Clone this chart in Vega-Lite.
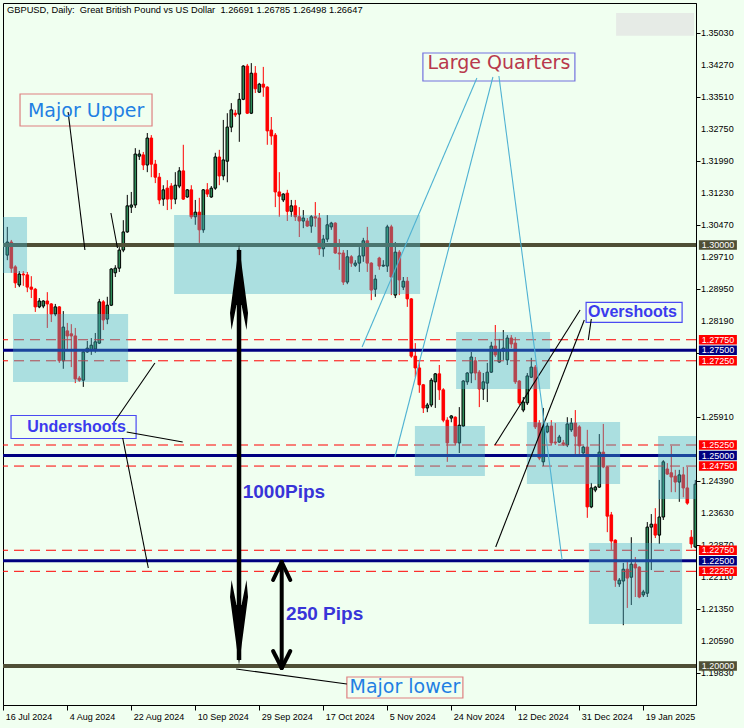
{
  "$schema": "https://vega.github.io/schema/vega-lite/v6.json",
  "width": 693,
  "height": 702,
  "autosize": {"type": "none"},
  "padding": {"left": 3, "top": 3, "right": 48, "bottom": 23},
  "background": "#F0FFF0",
  "config": {
    "view": {"stroke": "#000000", "strokeWidth": 1},
    "font": "Liberation Sans",
    "scale": {"continuousPadding": 0},
    "axis": {"labelOverlap": false, "labelFlush": false}
  },
  "datasets": {
    "bars": [
      {"i":0,"o":1.2976,"h":1.3043,"l":1.2964,"c":1.3007},
      {"i":1,"o":1.3007,"h":1.3012,"l":1.2934,"c":1.2945},
      {"i":2,"o":1.2948,"h":1.2952,"l":1.2898,"c":1.2910},
      {"i":3,"o":1.2905,"h":1.2938,"l":1.2900,"c":1.2931},
      {"i":4,"o":1.2931,"h":1.2938,"l":1.2903,"c":1.2929},
      {"i":5,"o":1.2929,"h":1.2936,"l":1.2888,"c":1.2900},
      {"i":6,"o":1.2900,"h":1.2926,"l":1.2874,"c":1.2895},
      {"i":7,"o":1.2895,"h":1.2898,"l":1.2841,"c":1.2853},
      {"i":8,"o":1.2853,"h":1.2874,"l":1.2850,"c":1.2867},
      {"i":9,"o":1.2855,"h":1.2869,"l":1.2850,"c":1.2867},
      {"i":10,"o":1.2867,"h":1.2888,"l":1.2803,"c":1.2860},
      {"i":11,"o":1.2860,"h":1.2862,"l":1.2817,"c":1.2836},
      {"i":12,"o":1.2836,"h":1.2860,"l":1.2831,"c":1.2853},
      {"i":13,"o":1.2853,"h":1.2855,"l":1.2720,"c":1.2725},
      {"i":14,"o":1.2725,"h":1.2843,"l":1.2706,"c":1.2805},
      {"i":15,"o":1.2796,"h":1.2815,"l":1.2753,"c":1.2784},
      {"i":16,"o":1.2789,"h":1.2812,"l":1.2710,"c":1.2784},
      {"i":17,"o":1.2784,"h":1.2803,"l":1.2672,"c":1.2682},
      {"i":18,"o":1.2684,"h":1.2689,"l":1.2675,"c":1.2679},
      {"i":19,"o":1.2679,"h":1.2753,"l":1.2663,"c":1.2746},
      {"i":20,"o":1.2746,"h":1.2772,"l":1.2744,"c":1.2755},
      {"i":21,"o":1.2751,"h":1.2779,"l":1.2739,"c":1.2762},
      {"i":22,"o":1.2753,"h":1.2791,"l":1.2744,"c":1.2770},
      {"i":23,"o":1.2767,"h":1.2872,"l":1.2765,"c":1.2865},
      {"i":24,"o":1.2865,"h":1.2869,"l":1.2798,"c":1.2822},
      {"i":25,"o":1.2824,"h":1.2877,"l":1.2812,"c":1.2857},
      {"i":26,"o":1.2857,"h":1.2945,"l":1.2855,"c":1.2943},
      {"i":27,"o":1.2934,"h":1.2952,"l":1.2924,"c":1.2945},
      {"i":28,"o":1.2945,"h":1.2995,"l":1.2936,"c":1.2988},
      {"i":29,"o":1.2988,"h":1.3059,"l":1.2983,"c":1.3031},
      {"i":30,"o":1.3031,"h":1.3119,"l":1.3029,"c":1.3093},
      {"i":31,"o":1.3090,"h":1.3126,"l":1.3076,"c":1.3095},
      {"i":32,"o":1.3095,"h":1.3230,"l":1.3088,"c":1.3216},
      {"i":33,"o":1.3211,"h":1.3226,"l":1.3202,"c":1.3216},
      {"i":34,"o":1.3214,"h":1.3221,"l":1.3178,"c":1.3190},
      {"i":35,"o":1.3190,"h":1.3266,"l":1.3173,"c":1.3254},
      {"i":36,"o":1.3254,"h":1.3261,"l":1.3161,"c":1.3192},
      {"i":37,"o":1.3192,"h":1.3202,"l":1.3147,"c":1.3161},
      {"i":38,"o":1.3161,"h":1.3171,"l":1.3097,"c":1.3107},
      {"i":39,"o":1.3109,"h":1.3142,"l":1.3093,"c":1.3131},
      {"i":40,"o":1.3135,"h":1.3154,"l":1.3083,"c":1.3109},
      {"i":41,"o":1.3140,"h":1.3147,"l":1.3085,"c":1.3109},
      {"i":42,"o":1.3109,"h":1.3173,"l":1.3097,"c":1.3142},
      {"i":43,"o":1.3140,"h":1.3185,"l":1.3135,"c":1.3176},
      {"i":44,"o":1.3176,"h":1.3238,"l":1.3107,"c":1.3109},
      {"i":45,"o":1.3114,"h":1.3133,"l":1.3112,"c":1.3131},
      {"i":46,"o":1.3131,"h":1.3142,"l":1.3062,"c":1.3067},
      {"i":47,"o":1.3067,"h":1.3107,"l":1.3048,"c":1.3078},
      {"i":48,"o":1.3078,"h":1.3112,"l":1.3005,"c":1.3036},
      {"i":49,"o":1.3036,"h":1.3133,"l":1.3029,"c":1.3131},
      {"i":50,"o":1.3131,"h":1.3147,"l":1.3114,"c":1.3121},
      {"i":51,"o":1.3114,"h":1.3140,"l":1.3112,"c":1.3135},
      {"i":52,"o":1.3135,"h":1.3219,"l":1.3131,"c":1.3209},
      {"i":53,"o":1.3209,"h":1.3226,"l":1.3142,"c":1.3164},
      {"i":54,"o":1.3164,"h":1.3297,"l":1.3154,"c":1.3202},
      {"i":55,"o":1.3199,"h":1.3313,"l":1.3149,"c":1.3280},
      {"i":56,"o":1.3280,"h":1.3337,"l":1.3268,"c":1.3321},
      {"i":57,"o":1.3313,"h":1.3321,"l":1.3304,"c":1.3309},
      {"i":58,"o":1.3311,"h":1.3361,"l":1.3245,"c":1.3346},
      {"i":59,"o":1.3346,"h":1.3427,"l":1.3344,"c":1.3425},
      {"i":60,"o":1.3425,"h":1.3430,"l":1.3311,"c":1.3313},
      {"i":61,"o":1.3313,"h":1.3432,"l":1.3311,"c":1.3408},
      {"i":62,"o":1.3408,"h":1.3425,"l":1.3361,"c":1.3371},
      {"i":63,"o":1.3363,"h":1.3385,"l":1.3361,"c":1.3382},
      {"i":64,"o":1.3382,"h":1.3423,"l":1.3352,"c":1.3375},
      {"i":65,"o":1.3375,"h":1.3377,"l":1.3238,"c":1.3271},
      {"i":66,"o":1.3273,"h":1.3304,"l":1.3238,"c":1.3259},
      {"i":67,"o":1.3261,"h":1.3266,"l":1.3090,"c":1.3126},
      {"i":68,"o":1.3126,"h":1.3173,"l":1.3067,"c":1.3116},
      {"i":69,"o":1.3107,"h":1.3123,"l":1.3102,"c":1.3121},
      {"i":70,"o":1.3123,"h":1.3131,"l":1.3057,"c":1.3080},
      {"i":71,"o":1.3080,"h":1.3107,"l":1.3067,"c":1.3093},
      {"i":72,"o":1.3093,"h":1.3107,"l":1.3057,"c":1.3067},
      {"i":73,"o":1.3067,"h":1.3090,"l":1.3019,"c":1.3057},
      {"i":74,"o":1.3057,"h":1.3083,"l":1.3040,"c":1.3064},
      {"i":75,"o":1.3057,"h":1.3064,"l":1.3043,"c":1.3045},
      {"i":76,"o":1.3045,"h":1.3071,"l":1.3029,"c":1.3067},
      {"i":77,"o":1.3067,"h":1.3102,"l":1.3043,"c":1.3064},
      {"i":78,"o":1.3064,"h":1.3076,"l":1.2976,"c":1.2991},
      {"i":79,"o":1.2991,"h":1.3024,"l":1.2972,"c":1.3014},
      {"i":80,"o":1.3014,"h":1.3071,"l":1.3007,"c":1.3048},
      {"i":81,"o":1.3043,"h":1.3055,"l":1.3036,"c":1.3052},
      {"i":82,"o":1.3052,"h":1.3054,"l":1.2979,"c":1.2981},
      {"i":83,"o":1.2981,"h":1.3014,"l":1.2941,"c":1.2979},
      {"i":84,"o":1.2981,"h":1.2988,"l":1.2905,"c":1.2912},
      {"i":85,"o":1.2912,"h":1.2988,"l":1.2907,"c":1.2972},
      {"i":86,"o":1.2972,"h":1.2976,"l":1.2948,"c":1.2957},
      {"i":87,"o":1.2952,"h":1.2964,"l":1.2948,"c":1.2957},
      {"i":88,"o":1.2957,"h":1.2995,"l":1.2936,"c":1.2974},
      {"i":89,"o":1.2974,"h":1.3017,"l":1.2960,"c":1.3010},
      {"i":90,"o":1.3010,"h":1.3043,"l":1.2936,"c":1.2957},
      {"i":91,"o":1.2957,"h":1.2959,"l":1.2869,"c":1.2893},
      {"i":92,"o":1.2895,"h":1.2929,"l":1.2877,"c":1.2919},
      {"i":93,"o":1.2969,"h":1.2972,"l":1.2941,"c":1.2950},
      {"i":94,"o":1.2950,"h":1.2964,"l":1.2948,"c":1.2952},
      {"i":95,"o":1.2950,"h":1.3048,"l":1.2936,"c":1.3043},
      {"i":96,"o":1.3043,"h":1.3048,"l":1.2881,"c":1.2924},
      {"i":97,"o":1.2881,"h":1.3007,"l":1.2874,"c":1.2983},
      {"i":98,"o":1.2983,"h":1.2988,"l":1.2881,"c":1.2917},
      {"i":99,"o":1.2900,"h":1.2924,"l":1.2893,"c":1.2914},
      {"i":100,"o":1.2914,"h":1.2924,"l":1.2853,"c":1.2872},
      {"i":101,"o":1.2872,"h":1.2874,"l":1.2732,"c":1.2736},
      {"i":102,"o":1.2736,"h":1.2767,"l":1.2686,"c":1.2708},
      {"i":103,"o":1.2708,"h":1.2727,"l":1.2649,"c":1.2668},
      {"i":104,"o":1.2668,"h":1.2670,"l":1.2601,"c":1.2613},
      {"i":105,"o":1.2613,"h":1.2625,"l":1.2603,"c":1.2620},
      {"i":106,"o":1.2620,"h":1.2684,"l":1.2615,"c":1.2679},
      {"i":107,"o":1.2675,"h":1.2696,"l":1.2613,"c":1.2694},
      {"i":108,"o":1.2694,"h":1.2715,"l":1.2632,"c":1.2656},
      {"i":109,"o":1.2656,"h":1.2660,"l":1.2579,"c":1.2584},
      {"i":110,"o":1.2584,"h":1.2591,"l":1.2485,"c":1.2530},
      {"i":111,"o":1.2589,"h":1.2596,"l":1.2579,"c":1.2594},
      {"i":112,"o":1.2591,"h":1.2593,"l":1.2525,"c":1.2530},
      {"i":113,"o":1.2530,"h":1.2615,"l":1.2506,"c":1.2572},
      {"i":114,"o":1.2570,"h":1.2679,"l":1.2568,"c":1.2677},
      {"i":115,"o":1.2675,"h":1.2698,"l":1.2668,"c":1.2696},
      {"i":116,"o":1.2696,"h":1.2746,"l":1.2672,"c":1.2734},
      {"i":117,"o":1.2725,"h":1.2734,"l":1.2679,"c":1.2696},
      {"i":118,"o":1.2698,"h":1.2703,"l":1.2615,"c":1.2658},
      {"i":119,"o":1.2658,"h":1.2696,"l":1.2632,"c":1.2675},
      {"i":120,"o":1.2672,"h":1.2720,"l":1.2627,"c":1.2698},
      {"i":121,"o":1.2698,"h":1.2770,"l":1.2696,"c":1.2760},
      {"i":122,"o":1.2760,"h":1.2810,"l":1.2734,"c":1.2739},
      {"i":123,"o":1.2722,"h":1.2777,"l":1.2720,"c":1.2751},
      {"i":124,"o":1.2748,"h":1.2798,"l":1.2727,"c":1.2755},
      {"i":125,"o":1.2727,"h":1.2786,"l":1.2715,"c":1.2779},
      {"i":126,"o":1.2779,"h":1.2786,"l":1.2755,"c":1.2765},
      {"i":127,"o":1.2767,"h":1.2781,"l":1.2670,"c":1.2675},
      {"i":128,"o":1.2677,"h":1.2679,"l":1.2620,"c":1.2625},
      {"i":129,"o":1.2608,"h":1.2639,"l":1.2603,"c":1.2627},
      {"i":130,"o":1.2625,"h":1.2696,"l":1.2620,"c":1.2689},
      {"i":131,"o":1.2686,"h":1.2732,"l":1.2684,"c":1.2710},
      {"i":132,"o":1.2710,"h":1.2715,"l":1.2563,"c":1.2568},
      {"i":133,"o":1.2577,"h":1.2584,"l":1.2489,"c":1.2494},
      {"i":134,"o":1.2485,"h":1.2613,"l":1.2475,"c":1.2568},
      {"i":135,"o":1.2556,"h":1.2577,"l":1.2553,"c":1.2570},
      {"i":136,"o":1.2570,"h":1.2584,"l":1.2525,"c":1.2530},
      {"i":137,"o":1.2532,"h":1.2577,"l":1.2525,"c":1.2530},
      {"i":138,"o":1.2532,"h":1.2549,"l":1.2530,"c":1.2544},
      {"i":139,"o":1.2530,"h":1.2537,"l":1.2523,"c":1.2527},
      {"i":140,"o":1.2525,"h":1.2591,"l":1.2520,"c":1.2575},
      {"i":141,"o":1.2561,"h":1.2589,"l":1.2556,"c":1.2577},
      {"i":142,"o":1.2577,"h":1.2608,"l":1.2501,"c":1.2546},
      {"i":143,"o":1.2568,"h":1.2572,"l":1.2497,"c":1.2523},
      {"i":144,"o":1.2506,"h":1.2523,"l":1.2504,"c":1.2520},
      {"i":145,"o":1.2520,"h":1.2561,"l":1.2352,"c":1.2378},
      {"i":146,"o":1.2378,"h":1.2435,"l":1.2375,"c":1.2423},
      {"i":147,"o":1.2418,"h":1.2428,"l":1.2413,"c":1.2425},
      {"i":148,"o":1.2425,"h":1.2551,"l":1.2423,"c":1.2508},
      {"i":149,"o":1.2508,"h":1.2575,"l":1.2470,"c":1.2473},
      {"i":150,"o":1.2473,"h":1.2475,"l":1.2318,"c":1.2356},
      {"i":151,"o":1.2359,"h":1.2366,"l":1.2276,"c":1.2297},
      {"i":152,"o":1.2299,"h":1.2301,"l":1.2188,"c":1.2204},
      {"i":153,"o":1.2195,"h":1.2209,"l":1.2188,"c":1.2204},
      {"i":154,"o":1.2202,"h":1.2245,"l":1.2097,"c":1.2230},
      {"i":155,"o":1.2230,"h":1.2252,"l":1.2138,"c":1.2209},
      {"i":156,"o":1.2211,"h":1.2306,"l":1.2145,"c":1.2242},
      {"i":157,"o":1.2242,"h":1.2259,"l":1.2164,"c":1.2233},
      {"i":158,"o":1.2235,"h":1.2237,"l":1.2161,"c":1.2164},
      {"i":159,"o":1.2169,"h":1.2181,"l":1.2164,"c":1.2176},
      {"i":160,"o":1.2173,"h":1.2342,"l":1.2164,"c":1.2330},
      {"i":161,"o":1.2330,"h":1.2361,"l":1.2228,"c":1.2337},
      {"i":162,"o":1.2337,"h":1.2375,"l":1.2304,"c":1.2311},
      {"i":163,"o":1.2311,"h":1.2442,"l":1.2290,"c":1.2354},
      {"i":164,"o":1.2354,"h":1.2489,"l":1.2347,"c":1.2485},
      {"i":165,"o":1.2468,"h":1.2482,"l":1.2454,"c":1.2456},
      {"i":166,"o":1.2459,"h":1.2523,"l":1.2413,"c":1.2449},
      {"i":167,"o":1.2451,"h":1.2466,"l":1.2413,"c":1.2437},
      {"i":168,"o":1.2437,"h":1.2466,"l":1.2390,"c":1.2454},
      {"i":169,"o":1.2454,"h":1.2473,"l":1.2401,"c":1.2423},
      {"i":170,"o":1.2423,"h":1.2473,"l":1.2383,"c":1.2387},
      {"i":171,"o":1.2306,"h":1.2323,"l":1.2280,"c":1.2290},
      {"i":172,"o":1.2283,"h":1.2442,"l":1.2280,"c":1.2432}
    ],
    "hl": [
      {"p":1.3,"k":"major"},{"p":1.2,"k":"major"},
      {"p":1.275,"k":"mid"},{"p":1.25,"k":"mid"},{"p":1.225,"k":"mid"},
      {"p":1.2775,"k":"q"},{"p":1.2725,"k":"q"},{"p":1.2525,"k":"q"},{"p":1.2475,"k":"q"},{"p":1.2275,"k":"q"},{"p":1.2225,"k":"q"}
    ],
    "ylab": [
      {"v":1.3503},{"v":1.3427},{"v":1.3351},{"v":1.3275},{"v":1.3199},{"v":1.3123},{"v":1.3047},{"v":1.2971},{"v":1.2895},{"v":1.2819},
      {"v":1.2591},{"v":1.2439},{"v":1.2363},{"v":1.2287},{"v":1.2211},{"v":1.2135},{"v":1.2059},{"v":1.1983}
    ],
    "zones": [
      {"x1":-1.07,"x2":4.93,"y1":1.30665,"y2":1.29335},
      {"x1":1.43,"x2":30.2,"y1":1.28361,"y2":1.26746},
      {"x1":41.7,"x2":103.2,"y1":1.30713,"y2":1.28836},
      {"x1":112.2,"x2":135.7,"y1":1.27934,"y2":1.2658},
      {"x1":101.9,"x2":119.4,"y1":1.25701,"y2":1.24514},
      {"x1":129.9,"x2":153.2,"y1":1.25796,"y2":1.24324},
      {"x1":162.7,"x2":172.17,"y1":1.25464,"y2":1.23968},
      {"x1":145.4,"x2":168.7,"y1":1.22922,"y2":1.21}
    ],
    "panel": [{"x1":152.2,"x2":171.7,"y1":1.3551,"y2":1.3497}],
    "frames": [
      {"x1":3.18,"x2":36.18,"y1":1.33586,"y2":1.32826,"k":"salmon"},
      {"x1":103.9,"x2":141.9,"y1":1.3456,"y2":1.33895,"k":"violet"},
      {"x1":144.7,"x2":168.7,"y1":1.28635,"y2":1.2816,"k":"blue"},
      {"x1":0.93,"x2":32.2,"y1":1.25951,"y2":1.25404,"k":"blue"},
      {"x1":84.9,"x2":113.9,"y1":1.1974,"y2":1.19241,"k":"salmon"}
    ],
    "segs": [
      {"x1":15.2,"y1":1.33159,"x2":19.4,"y2":1.29881,"k":"ptr"},
      {"x1":25.9,"y1":1.3076,"x2":27.55,"y2":1.29929,"k":"ptr"},
      {"x1":26.9,"y1":1.2582,"x2":36.9,"y2":1.27198,"k":"ptr"},
      {"x1":29.85,"y1":1.25559,"x2":43.85,"y2":1.25321,"k":"ptr"},
      {"x1":28.85,"y1":1.25416,"x2":35.25,"y2":1.22329,"k":"ptr"},
      {"x1":57.2,"y1":1.1993,"x2":84.9,"y2":1.19574,"k":"ptr"},
      {"x1":143.2,"y1":1.28456,"x2":121.9,"y2":1.2525,"k":"ptr"},
      {"x1":144.25,"y1":1.28219,"x2":122.1,"y2":1.22828,"k":"ptr"},
      {"x1":146,"y1":1.28242,"x2":145.25,"y2":1.27744,"k":"ptr"},
      {"x1":117.4,"y1":1.33966,"x2":88.7,"y2":1.27578,"k":"lq"},
      {"x1":121.4,"y1":1.3399,"x2":96.9,"y2":1.24965,"k":"lq"},
      {"x1":122.9,"y1":1.34014,"x2":138.7,"y2":1.22519,"k":"lq"},
      {"x1":57.93,"y1":1.29881,"x2":57.93,"y2":1.20144,"k":"shaft"},
      {"x1":68.6,"y1":1.22471,"x2":68.6,"y2":1.19954,"k":"shaft2"},
      {"x1":68.6,"y1":1.22471,"x2":66.45,"y2":1.22044,"k":"chev"},
      {"x1":68.6,"y1":1.22471,"x2":70.75,"y2":1.22044,"k":"chev"},
      {"x1":68.6,"y1":1.19954,"x2":66.45,"y2":1.20357,"k":"chev"},
      {"x1":68.6,"y1":1.19954,"x2":70.75,"y2":1.20357,"k":"chev"}
    ],
    "heads": [
      {"x":57.93,"y":1.28991,"k":"up"},
      {"x":57.93,"y":1.21034,"k":"down"}
    ],
    "notes": [
      {"t":"Major Upper","x":19.7,"y":1.33194,"k":"big"},
      {"t":"Large Quarters","x":122.9,"y":1.34311,"k":"bigred"},
      {"t":"Major lower","x":99.4,"y":1.19491,"k":"big"},
      {"t":"Overshoots","x":156.3,"y":1.28409,"k":"bold16"},
      {"t":"Undershoots","x":17.3,"y":1.25678,"k":"bold16"},
      {"t":"1000Pips","x":58.85,"y":1.24122,"k":"bold19"},
      {"t":"250 Pips","x":69.7,"y":1.21243,"k":"bold19"},
      {"t":"GBPUSD, Daily:\u00a0 Great British Pound vs US Dollar\u00a0 1.26691 1.26785 1.26498 1.26647","x":-0.075,"y":1.35588,"k":"title"}
    ]
  },
  "layer": [
    {
      "data": {"name": "bars"},
      "mark": {"type": "rule", "strokeWidth": 1},
      "encoding": {
        "x": {"field": "i", "type": "quantitative", "scale": {"domain": [-1.075, 172.175], "nice": false, "zero": false, "padding": 0},
          "axis": {"orient": "bottom", "title": null, "grid": false, "values": [-1,15,31,47,63,79,95,111,127,143,159],
            "labelExpr": "['16 Jul 2024','4 Aug 2024','22 Aug 2024','10 Sep 2024','29 Sep 2024','17 Oct 2024','5 Nov 2024','24 Nov 2024','12 Dec 2024','31 Dec 2024','19 Jan 2025'][round((datum.value+1)/16)]",
            "labelAlign": "left", "labelOffset": 2, "labelPadding": 2, "tickSize": 5, "labelFontSize": 9, "labelFont": "Liberation Sans",
            "labelColor": "#000000", "tickColor": "#000000", "domainColor": "#000000", "labelOverlap": false, "labelFlush": false, "zindex": 0}},
        "y": {"field": "l", "type": "quantitative", "scale": {"domain": [1.19075, 1.357475], "nice": false, "zero": false, "padding": 0},
          "axis": {"orient": "right", "title": null, "grid": false, "labels": false,
            "values": [1.3503,1.3427,1.3351,1.3275,1.3199,1.3123,1.3047,1.2971,1.2895,1.2819,1.2743,1.2667,1.2591,1.2515,1.2439,1.2363,1.2287,1.2211,1.2135,1.2059,1.1983],
            "tickSize": 4, "tickColor": "#000000", "domainColor": "#000000", "zindex": 0}},
        "y2": {"field": "h"},
        "color": {"condition": {"test": "datum.c >= datum.o", "value": "#000000"}, "value": "#FF0000"}
      }
    },
    {
      "data": {"name": "bars"},
      "mark": {"type": "bar", "orient": "vertical", "width": 2.6, "strokeWidth": 1},
      "encoding": {
        "x": {"field": "i", "type": "quantitative"},
        "y": {"field": "o", "type": "quantitative"},
        "y2": {"field": "c"},
        "fill": {"condition": {"test": "datum.c >= datum.o", "value": "#2E8B57"}, "value": "#FF0000"},
        "stroke": {"condition": {"test": "datum.c >= datum.o", "value": "#000000"}, "value": "#FF0000"}
      }
    },
    {
      "data": {"name": "ylab"},
      "mark": {"type": "text", "font": "Liberation Sans", "fontSize": 9, "align": "left", "baseline": "middle", "color": "#000000"},
      "encoding": {
        "x": {"datum": 173.45, "type": "quantitative"},
        "y": {"field": "v", "type": "quantitative"},
        "text": {"field": "v", "type": "quantitative", "format": ".5f"}
      }
    },
    {
      "data": {"name": "hl"},
      "transform": [{"filter": "datum.k == 'q'"}],
      "mark": {"type": "rule", "color": "#FF0000", "strokeWidth": 1, "strokeDash": [10, 6]},
      "encoding": {"y": {"field": "p", "type": "quantitative"}}
    },
    {
      "data": {"name": "hl"},
      "transform": [{"filter": "datum.k == 'mid'"}],
      "mark": {"type": "rule", "color": "#000080", "strokeWidth": 3},
      "encoding": {"y": {"field": "p", "type": "quantitative"}}
    },
    {
      "data": {"name": "hl"},
      "transform": [{"filter": "datum.k == 'major'"}],
      "mark": {"type": "rule", "color": "#4F4F36", "strokeWidth": 4},
      "encoding": {"y": {"field": "p", "type": "quantitative"}}
    },
    {
      "data": {"name": "zones"},
      "mark": {"type": "rect", "fill": "#43AFC8", "fillOpacity": 0.4},
      "encoding": {
        "x": {"field": "x1", "type": "quantitative"}, "x2": {"field": "x2"},
        "y": {"field": "y1", "type": "quantitative"}, "y2": {"field": "y2"}
      }
    },
    {
      "data": {"name": "panel"},
      "mark": {"type": "rect", "fill": "#E6EBE6"},
      "encoding": {
        "x": {"field": "x1", "type": "quantitative"}, "x2": {"field": "x2"},
        "y": {"field": "y1", "type": "quantitative"}, "y2": {"field": "y2"}
      }
    },
    {
      "data": {"name": "frames"},
      "mark": {"type": "rect", "fill": "#F0FFF0", "strokeWidth": 1.2},
      "encoding": {
        "x": {"field": "x1", "type": "quantitative"}, "x2": {"field": "x2"},
        "y": {"field": "y1", "type": "quantitative"}, "y2": {"field": "y2"},
        "stroke": {"field": "k", "type": "nominal", "scale": {"domain": ["salmon", "violet", "blue"], "range": ["#DE8080", "#7272DE", "#4A4AF2"]}, "legend": null}
      }
    },
    {
      "data": {"name": "segs"},
      "transform": [{"filter": "datum.k == 'ptr'"}],
      "mark": {"type": "rule", "color": "#000000", "strokeWidth": 1.1},
      "encoding": {
        "x": {"field": "x1", "type": "quantitative"}, "x2": {"field": "x2"},
        "y": {"field": "y1", "type": "quantitative"}, "y2": {"field": "y2"}
      }
    },
    {
      "data": {"name": "segs"},
      "transform": [{"filter": "datum.k == 'lq'"}],
      "mark": {"type": "rule", "color": "#4FB2D2", "strokeWidth": 1.1},
      "encoding": {
        "x": {"field": "x1", "type": "quantitative"}, "x2": {"field": "x2"},
        "y": {"field": "y1", "type": "quantitative"}, "y2": {"field": "y2"}
      }
    },
    {
      "data": {"name": "segs"},
      "transform": [{"filter": "datum.k == 'shaft'"}],
      "mark": {"type": "rule", "color": "#000000", "strokeWidth": 4.5},
      "encoding": {
        "x": {"field": "x1", "type": "quantitative"}, "x2": {"field": "x2"},
        "y": {"field": "y1", "type": "quantitative"}, "y2": {"field": "y2"}
      }
    },
    {
      "data": {"name": "segs"},
      "transform": [{"filter": "datum.k == 'shaft2' || datum.k == 'chev'"}],
      "mark": {"type": "rule", "color": "#000000", "strokeWidth": 4, "strokeCap": "round"},
      "encoding": {
        "x": {"field": "x1", "type": "quantitative"}, "x2": {"field": "x2"},
        "y": {"field": "y1", "type": "quantitative"}, "y2": {"field": "y2"}
      }
    },
    {
      "data": {"name": "heads"},
      "mark": {"type": "point", "filled": true, "color": "#000000", "opacity": 1, "size": 7225, "strokeWidth": 0},
      "encoding": {
        "x": {"field": "x", "type": "quantitative"},
        "y": {"field": "y", "type": "quantitative"},
        "shape": {"field": "k", "type": "nominal", "legend": null,
          "scale": {"domain": ["up", "down"], "range": ["M0,-1L0.212,0.6L0.176,1L0.059,0.41L-0.059,0.41L-0.176,1L-0.212,0.6Z", "M0,1L0.212,-0.6L0.176,-1L0.059,-0.41L-0.059,-0.41L-0.176,-1L-0.212,-0.6Z"]}}
      }
    },
    {
      "data": {"name": "notes"},
      "transform": [{"filter": "datum.k == 'big' || datum.k == 'bigred'"}],
      "mark": {"type": "text", "font": "DejaVu Sans", "fontSize": 19, "align": "center", "baseline": "middle"},
      "encoding": {
        "x": {"field": "x", "type": "quantitative"},
        "y": {"field": "y", "type": "quantitative"},
        "text": {"field": "t"},
        "color": {"condition": {"test": "datum.k == 'bigred'", "value": "#B8384C"}, "value": "#1F7FE3"}
      }
    },
    {
      "data": {"name": "notes"},
      "transform": [{"filter": "datum.k == 'bold16'"}],
      "mark": {"type": "text", "font": "Liberation Sans", "fontWeight": "bold", "fontSize": 16, "align": "center", "baseline": "middle", "color": "#3B3BEE"},
      "encoding": {
        "x": {"field": "x", "type": "quantitative"},
        "y": {"field": "y", "type": "quantitative"},
        "text": {"field": "t"}
      }
    },
    {
      "data": {"name": "notes"},
      "transform": [{"filter": "datum.k == 'bold19'"}],
      "mark": {"type": "text", "font": "Liberation Sans", "fontWeight": "bold", "fontSize": 19, "align": "left", "baseline": "middle", "color": "#3834D8"},
      "encoding": {
        "x": {"field": "x", "type": "quantitative"},
        "y": {"field": "y", "type": "quantitative"},
        "text": {"field": "t"}
      }
    },
    {
      "data": {"name": "notes"},
      "transform": [{"filter": "datum.k == 'title'"}],
      "mark": {"type": "text", "font": "Liberation Sans", "fontSize": 9.3, "align": "left", "baseline": "middle", "color": "#000000"},
      "encoding": {
        "x": {"field": "x", "type": "quantitative"},
        "y": {"field": "y", "type": "quantitative"},
        "text": {"field": "t"}
      }
    },
    {
      "data": {"name": "hl"},
      "mark": {"type": "tick", "orient": "horizontal", "size": 38, "thickness": 9.4, "opacity": 1},
      "encoding": {
        "x": {"datum": 177.65, "type": "quantitative"},
        "y": {"field": "p", "type": "quantitative"},
        "color": {"field": "k", "type": "nominal", "legend": null, "scale": {"domain": ["major", "mid", "q"], "range": ["#4F4F36", "#000080", "#FF0000"]}}
      }
    },
    {
      "data": {"name": "hl"},
      "mark": {"type": "text", "font": "Liberation Sans", "fontSize": 9, "align": "center", "baseline": "middle", "color": "#FFFFFF"},
      "encoding": {
        "x": {"datum": 177.65, "type": "quantitative"},
        "y": {"field": "p", "type": "quantitative"},
        "text": {"field": "p", "type": "quantitative", "format": ".5f"}
      }
    }
  ]
}
